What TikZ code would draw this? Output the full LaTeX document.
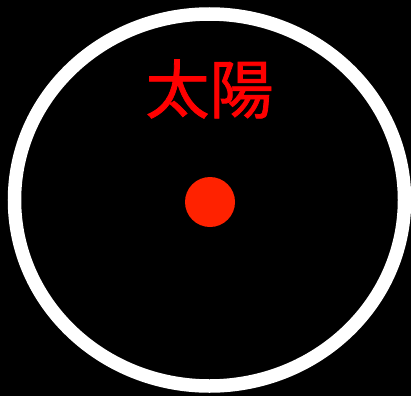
\documentclass[tikz,border=0pt]{standalone}
\usepackage{fontspec}
\newfontfamily\cjk[FakeBold=1.2]{Noto Sans CJK JP}
\definecolor{sunred}{HTML}{FF2200}
\tikzset{
	sundot/.style = {circle, fill=sunred, inner sep=0pt, minimum size=50pt},
	sunlabel/.style = {text=red, font=\cjk\fontsize{64}{64}\selectfont, inner sep=0pt}
}
\begin{document}
\begin{tikzpicture}[x = 1pt, y = -1pt]
		\useasboundingbox (0,0) rectangle (411,396);
		\clip (0,0) rectangle (411,396);
		\fill [black] (0,0) rectangle (411,396);
		\draw [white, line width=13.5pt] (209.5,200) ellipse [x radius=195, y radius=186];
		\node [sundot] (sun) at (210,202) {};
		\node [sunlabel] (name) at (209.5,89) {太陽};
	\end{tikzpicture}
\end{document}
